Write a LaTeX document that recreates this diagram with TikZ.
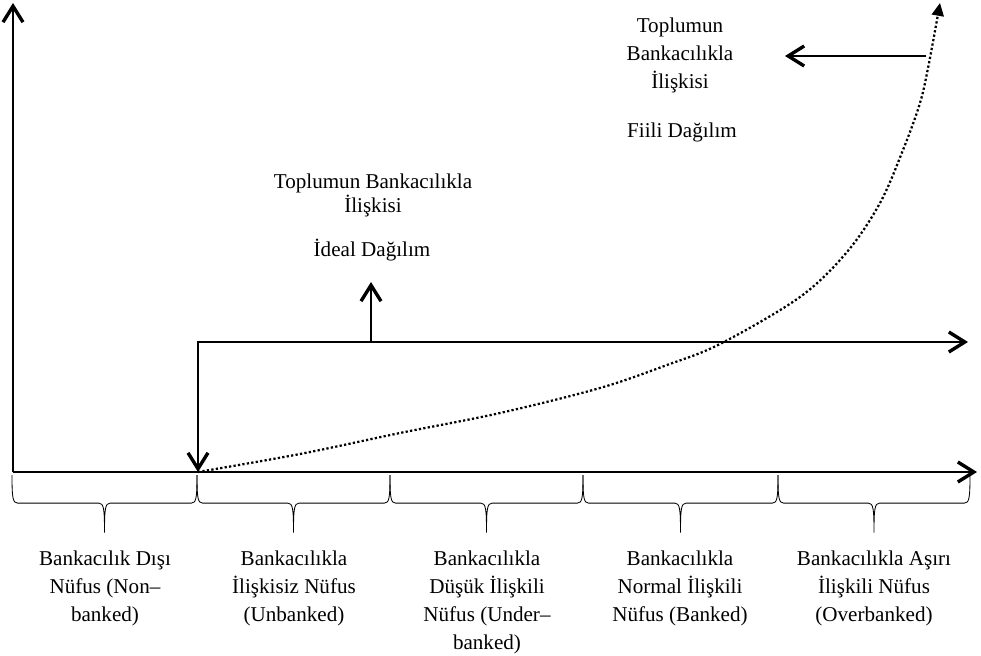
\documentclass[tikz,border=0pt]{standalone}
\usepackage{fontspec}
\setmainfont{Liberation Serif}
\usetikzlibrary{arrows.meta,positioning,calc}

\begin{document}
\begin{tikzpicture}[x=0.025cm, y=-0.025cm,
    >={Straight Barb[length=4mm,width=5mm,line width=2.4pt]},
    axis/.style={line width=2.1pt, ->},
    branch/.style={line width=1.6pt, ->},
    actual/.style={line width=1.6pt, dash pattern=on 1.6pt off 1.6pt, -{Triangle[length=3.2mm,width=3mm]}},
    group/.style={line width=0.6pt, to path={
        let \p1=(\tikztostart), \p2=(\tikztotarget), \p3=($(\tikztostart)!.5!(\tikztotarget)$) in
        .. controls (\x1,\y1-16pt) and (\x1+0.5pt,\y1-20pt) .. (\x1+4pt,\y1-20pt)
        -- (\x3-4pt,\y1-20pt)
        .. controls (\x3-0.5pt,\y1-20pt) and (\x3,\y1-24pt) .. (\x3,\y1-41pt)
        .. controls (\x3,\y1-24pt) and (\x3+0.5pt,\y1-20pt) .. (\x3+4pt,\y1-20pt)
        -- (\x2-4pt,\y1-20pt)
        .. controls (\x2-0.5pt,\y1-20pt) and (\x2,\y1-16pt) .. (\x2,\y2)}},
    lbl/.style={align=center, inner sep=0pt, anchor=north, font=\fontsize{15}{19.8}\selectfont}]
    \useasboundingbox (0,0) rectangle (981,656);

    % Points {o, ytop, xend, split, ...}
    \coordinate (o)      at (13,472);
    \coordinate (ytop)   at (13,3);
    \coordinate (xend)   at (977,472);
    \coordinate (split)  at (198,472);
    \coordinate (corner) at (198,342);
    \coordinate (bend)   at (371,342);
    \coordinate (ideal)  at (371,282);
    \coordinate (rend)   at (968,342);
    \coordinate (top)    at (940,3);
    \coordinate (fiili)  at (926,56);
    \coordinate (fend)   at (785,56);

    % Brace ends {b0, b1, ..., b5}
    \coordinate (b0) at (12,475);
    \coordinate (b1) at (197,475);
    \coordinate (b2) at (390,475);
    \coordinate (b3) at (583,475);
    \coordinate (b4) at (778,475);
    \coordinate (b5) at (970,475);

    % Axes
    \draw [axis]   (o) -- (ytop);
    \draw [axis]   (o) -- (xend);

    % Ideal path
    \draw [branch] (bend) -- (corner) -- (split);
    \draw [branch] (bend) -- (rend);
    \draw [branch] (bend) -- (ideal);

    % Actual curve
    \draw [actual] plot [smooth, tension=0.55] coordinates {(split) (300,454) (400,433) (500,413)
        (600,388) (667,365) (720,344) (800,297) (847,252) (880,203) (903,150) (920,103) (929,63) (top)};
    \draw [branch] (fiili) -- (fend);

    % Braces
    \draw [group]  (b0) to (b1);
    \draw [group]  (b1) to (b2);
    \draw [group]  (b2) to (b3);
    \draw [group]  (b3) to (b4);
    \draw [group]  (b4) to (b5);

    % Labels
    \node [lbl] (nonbanked)   at (105,551)  {Bankacılık Dışı\\Nüfus (Non–\\banked)};
    \node [lbl] (unbanked)    at (294,551)  {Bankacılıkla\\İlişkisiz Nüfus\\(Unbanked)};
    \node [lbl] (underbanked) at (487,551)  {Bankacılıkla\\Düşük İlişkili\\Nüfus (Under–\\banked)};
    \node [lbl] (banked)      at (680,551)  {Bankacılıkla\\Normal İlişkili\\Nüfus (Banked)};
    \node [lbl] (overbanked)  at (874,551)  {Bankacılıkla Aşırı\\İlişkili Nüfus\\(Overbanked)};

    \node [lbl] (toplum1) at (680,18)  {Toplumun\\Bankacılıkla\\İlişkisi};
    \node [lbl] (fiilitext) at (682,123) {Fiili Dağılım};
    \node [lbl, font=\fontsize{15}{16.5}\selectfont] (toplum2) at (373,174) {Toplumun Bankacılıkla\\İlişkisi};
    \node [lbl] (idealtext) at (372,239) {İdeal Dağılım};
\end{tikzpicture}
\end{document}
